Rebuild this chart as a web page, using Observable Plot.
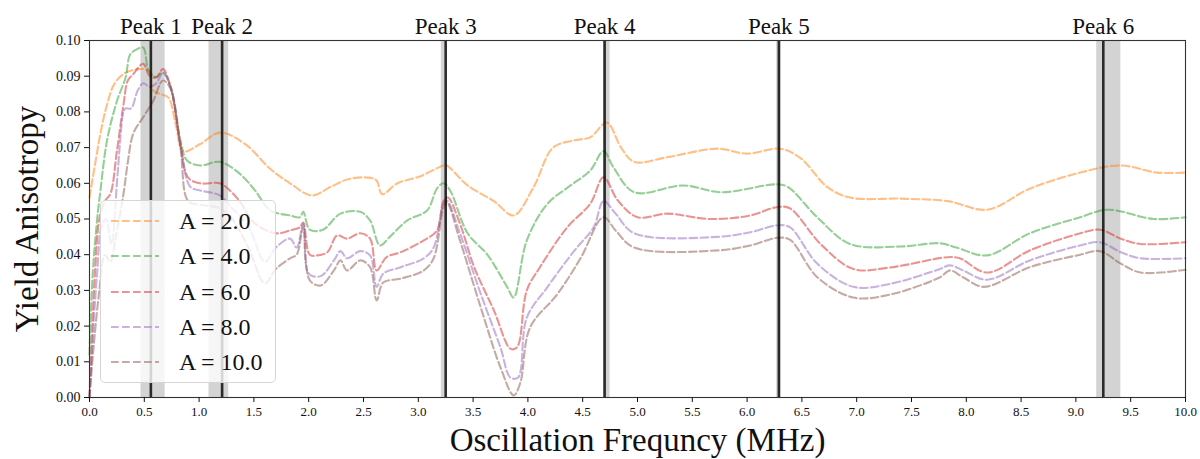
<!DOCTYPE html>
<html>
<head>
<meta charset="utf-8">
<script src="https://cdn.jsdelivr.net/npm/d3@7"></script>
<script src="https://cdn.jsdelivr.net/npm/@observablehq/plot@0.6"></script>
<style>
  html, body { margin: 0; padding: 0; background: #fff; }
  #wrap { position: relative; width: 1200px; height: 459px; font-family: "Liberation Serif", "DejaVu Serif", serif; }
  #legend { position: absolute; left: 100px; top: 200px; width: 176px; height: 183px; box-sizing: border-box;
            background: rgba(255,255,255,0.8); border: 1px solid #d6d6d6; border-radius: 5px; }
  .lrow { position: absolute; left: 0; height: 30px; width: 176px; }
  .lrow svg { position: absolute; left: 9px; top: 0; }
  .lrow span { position: absolute; left: 78px; top: 0; line-height: 30px; font-size: 24px; color: #111; white-space: nowrap; }
</style>
</head>
<body>
<div id="wrap"></div>
<script>
// ---- data ----
const seriesLabels = ["A = 2.0", "A = 4.0", "A = 6.0", "A = 8.0", "A = 10.0"];
const seriesColors = ["#ff7f0e", "#2ca02c", "#d62728", "#9467bd", "#8c564b"];

const freqA2 = [0, 0.06, 0.10, 0.16, 0.23, 0.33, 0.46, 0.54, 0.58, 0.65, 0.72, 0.79, 0.855, 1.01, 1.19, 1.42, 1.65, 1.83, 2.03, 2.2, 2.38, 2.61, 2.67, 2.81, 3.02, 3.23, 3.26, 3.45, 3.69, 3.87, 4.05, 4.23, 4.42, 4.57, 4.72, 4.85, 4.97, 5.27, 5.73, 6.0, 6.30, 6.49, 6.73, 6.94, 7.40, 7.83, 8.19, 8.58, 9.04, 9.41, 9.74, 10.0];
const yieldA2 = [0.056, 0.067, 0.074, 0.082, 0.088, 0.091, 0.092, 0.0915, 0.086, 0.085, 0.084, 0.076, 0.069, 0.071, 0.0742, 0.071, 0.064, 0.060, 0.0566, 0.059, 0.0613, 0.061, 0.057, 0.060, 0.062, 0.065, 0.065, 0.0594, 0.055, 0.051, 0.0588, 0.070, 0.072, 0.0729, 0.077, 0.070, 0.066, 0.0673, 0.0697, 0.0683, 0.0697, 0.067, 0.059, 0.056, 0.0557, 0.055, 0.0526, 0.0585, 0.063, 0.065, 0.063, 0.063];

const freqA4 = [0, 0.03, 0.07, 0.10, 0.16, 0.25, 0.33, 0.37, 0.43, 0.49, 0.54, 0.61, 0.67, 0.74, 0.83, 0.89, 1.01, 1.19, 1.37, 1.51, 1.65, 1.83, 1.92, 1.95, 2.01, 2.13, 2.29, 2.47, 2.56, 2.65, 2.74, 2.90, 3.08, 3.17, 3.23, 3.29, 3.45, 3.63, 3.81, 3.87, 3.99, 4.18, 4.39, 4.57, 4.69, 4.78, 4.97, 5.42, 5.76, 6.27, 6.37, 6.64, 6.94, 7.40, 7.76, 7.91, 8.19, 8.58, 9.04, 9.29, 9.71, 10.0];
const yieldA4 = [0.012, 0.035, 0.050, 0.058, 0.072, 0.083, 0.0897, 0.096, 0.0975, 0.098, 0.0916, 0.0897, 0.091, 0.087, 0.072, 0.0664, 0.065, 0.066, 0.0627, 0.058, 0.0524, 0.051, 0.0505, 0.052, 0.047, 0.047, 0.0515, 0.052, 0.0496, 0.0426, 0.045, 0.0496, 0.0524, 0.0585, 0.060, 0.058, 0.046, 0.040, 0.031, 0.028, 0.044, 0.0543, 0.0594, 0.0636, 0.069, 0.0645, 0.0575, 0.0594, 0.0575, 0.0597, 0.059, 0.0505, 0.043, 0.0423, 0.0432, 0.042, 0.0398, 0.046, 0.0505, 0.0526, 0.050, 0.0505];

const freqA6 = [0, 0.02, 0.05, 0.09, 0.14, 0.19, 0.25, 0.31, 0.35, 0.40, 0.49, 0.55, 0.61, 0.67, 0.74, 0.83, 0.90, 1.01, 1.19, 1.28, 1.37, 1.50, 1.70, 1.83, 1.92, 1.95, 2.01, 2.08, 2.17, 2.26, 2.35, 2.47, 2.56, 2.62, 2.71, 2.84, 3.05, 3.17, 3.23, 3.27, 3.38, 3.51, 3.69, 3.84, 3.90, 3.99, 4.11, 4.36, 4.57, 4.69, 4.82, 5.00, 5.27, 5.66, 6.03, 6.27, 6.39, 6.67, 6.97, 7.30, 7.83, 7.94, 8.19, 8.58, 9.04, 9.22, 9.41, 9.59, 10.0];
const yieldA6 = [0.0, 0.015, 0.035, 0.050, 0.055, 0.057, 0.069, 0.082, 0.0888, 0.0906, 0.0935, 0.090, 0.0897, 0.092, 0.087, 0.071, 0.0616, 0.060, 0.060, 0.058, 0.055, 0.049, 0.046, 0.0468, 0.0477, 0.049, 0.040, 0.0398, 0.0407, 0.0454, 0.0445, 0.046, 0.0445, 0.0356, 0.0393, 0.0407, 0.044, 0.0468, 0.055, 0.056, 0.0487, 0.0365, 0.0244, 0.0137, 0.014, 0.030, 0.0365, 0.0477, 0.0543, 0.0617, 0.0552, 0.0505, 0.0515, 0.050, 0.051, 0.0533, 0.053, 0.043, 0.036, 0.0364, 0.0393, 0.039, 0.035, 0.0412, 0.046, 0.047, 0.0445, 0.043, 0.0435];

const freqA8 = [0, 0.03, 0.07, 0.11, 0.15, 0.20, 0.25, 0.28, 0.31, 0.33, 0.38, 0.44, 0.49, 0.55, 0.61, 0.67, 0.74, 0.83, 0.92, 1.01, 1.19, 1.30, 1.45, 1.60, 1.70, 1.83, 1.89, 1.95, 2.00, 2.11, 2.23, 2.29, 2.35, 2.47, 2.56, 2.62, 2.68, 2.84, 3.05, 3.14, 3.23, 3.26, 3.38, 3.57, 3.75, 3.84, 3.91, 3.99, 4.18, 4.42, 4.60, 4.69, 4.80, 4.97, 5.73, 6.03, 6.27, 6.39, 6.64, 6.97, 7.30, 7.76, 7.85, 7.97, 8.19, 8.58, 9.04, 9.22, 9.41, 9.59, 10.0];
const yieldA8 = [0.0, 0.017, 0.035, 0.048, 0.050, 0.043, 0.060, 0.072, 0.080, 0.081, 0.081, 0.086, 0.088, 0.087, 0.088, 0.091, 0.087, 0.0705, 0.059, 0.058, 0.0566, 0.053, 0.048, 0.038, 0.042, 0.0445, 0.042, 0.0487, 0.0347, 0.034, 0.0384, 0.041, 0.039, 0.041, 0.0398, 0.031, 0.0347, 0.0365, 0.039, 0.042, 0.0543, 0.0552, 0.046, 0.029, 0.014, 0.0056, 0.0056, 0.0224, 0.031, 0.041, 0.0477, 0.055, 0.0515, 0.046, 0.045, 0.0463, 0.0482, 0.0477, 0.0375, 0.031, 0.0318, 0.036, 0.037, 0.0356, 0.033, 0.0384, 0.0426, 0.0435, 0.0407, 0.039, 0.039];

const freqA10 = [0, 0.04, 0.09, 0.14, 0.19, 0.24, 0.31, 0.35, 0.40, 0.49, 0.58, 0.67, 0.74, 0.83, 0.90, 1.01, 1.19, 1.30, 1.45, 1.60, 1.70, 1.83, 1.89, 1.95, 2.01, 2.11, 2.23, 2.29, 2.35, 2.47, 2.56, 2.62, 2.68, 2.84, 3.05, 3.14, 3.23, 3.26, 3.38, 3.57, 3.75, 3.87, 3.93, 4.02, 4.27, 4.48, 4.69, 4.80, 4.97, 5.73, 6.03, 6.27, 6.39, 6.64, 6.97, 7.30, 7.76, 7.85, 7.97, 8.16, 8.58, 9.04, 9.22, 9.41, 9.59, 10.0];
const yieldA10 = [0.0, 0.015, 0.030, 0.040, 0.038, 0.045, 0.057, 0.066, 0.074, 0.0785, 0.083, 0.0888, 0.0865, 0.070, 0.055, 0.054, 0.053, 0.050, 0.042, 0.032, 0.036, 0.039, 0.040, 0.0477, 0.0328, 0.0314, 0.0356, 0.0384, 0.0356, 0.0384, 0.0365, 0.0272, 0.0322, 0.0333, 0.0356, 0.039, 0.0533, 0.0547, 0.044, 0.0252, 0.0084, 0.0006, 0.004, 0.0196, 0.029, 0.039, 0.0505, 0.0468, 0.042, 0.0412, 0.0426, 0.0447, 0.0442, 0.0337, 0.028, 0.0288, 0.0337, 0.0356, 0.0337, 0.031, 0.0365, 0.040, 0.041, 0.0375, 0.035, 0.0358];

const peakLabels  = ["Peak 1", "Peak 2", "Peak 3", "Peak 4", "Peak 5", "Peak 6"];
const peakCenters = [0.56, 1.21, 3.25, 4.70, 6.29, 9.25];
const peakLow     = [0.47, 1.09, 3.21, 4.69, 6.27, 9.19];
const peakHigh    = [0.69, 1.27, 3.26, 4.75, 6.31, 9.41];

const xTicks = [0, 0.5, 1, 1.5, 2, 2.5, 3, 3.5, 4, 4.5, 5, 5.5, 6, 6.5, 7, 7.5, 8, 8.5, 9, 9.5, 10];
const yTicks = [0, 0.01, 0.02, 0.03, 0.04, 0.05, 0.06, 0.07, 0.08, 0.09, 0.10];
const xLabel = "Oscillation Frequncy (MHz)";
const yLabel = "Yield Anisotropy";

// ---- build ----
const freqs = [freqA2, freqA4, freqA6, freqA8, freqA10];
const yields = [yieldA2, yieldA4, yieldA6, yieldA8, yieldA10];
const rows = seriesLabels.flatMap((lab, k) => freqs[k].map((f, i) => ({f, v: yields[k][i], A: lab})));
const peaks = peakLabels.map((label, i) => ({label, c: peakCenters[i], lo: peakLow[i], hi: peakHigh[i]}));

const serif = "Liberation Serif, DejaVu Serif, serif";
const dash = "7.7,3.3";

const chart = Plot.plot({
  width: 1200,
  height: 459,
  marginTop: 40,
  marginBottom: 62,
  marginLeft: 89,
  marginRight: 15,
  style: {fontFamily: serif, color: "#111", background: "transparent"},
  x: {domain: [0, 10]},
  y: {domain: [0, 0.1]},
  color: {domain: seriesLabels, range: seriesColors},
  marks: [
    Plot.rect(peaks, {x1: "lo", x2: "hi", fill: "#c4c4c4", fillOpacity: 0.75}),
    Plot.line(rows, {x: "f", y: "v", z: "A", stroke: "A", strokeOpacity: 0.5, strokeWidth: 2.1,
                     strokeDasharray: dash, curve: "catmull-rom"}),
    Plot.ruleX(peaks, {x: "c", stroke: "#000", strokeOpacity: 0.8, strokeWidth: 2.6}),
    Plot.frame({stroke: "#333", strokeWidth: 1.1}),
    Plot.axisX({ticks: xTicks, tickFormat: d => d.toFixed(1), tickSize: 5, tickPadding: 4,
                label: null, fontSize: 13, fontFamily: serif}),
    Plot.axisY({ticks: yTicks, tickFormat: d => d.toFixed(2), tickSize: 5, tickPadding: 4,
                label: null, fontSize: 14, fontFamily: serif}),
    Plot.text(peaks, {x: "c", text: "label", frameAnchor: "top", dy: -7, lineAnchor: "bottom",
                      fontSize: 23, fontFamily: serif, fill: "#111"}),
    Plot.text([xLabel], {text: d => d, frameAnchor: "bottom", dy: 43, lineAnchor: "middle", textAnchor: "middle",
                         fontSize: 33, fontFamily: serif, fill: "#111"}),
    Plot.text([yLabel], {text: d => d, frameAnchor: "left", dx: -62, rotate: -90, lineAnchor: "middle", textAnchor: "middle",
                         fontSize: 33, fontFamily: serif, fill: "#111"})
  ]
});

const wrap = document.getElementById("wrap");
wrap.appendChild(chart);

// legend overlay
const legend = document.createElement("div");
legend.id = "legend";
seriesLabels.forEach((lab, i) => {
  const row = document.createElement("div");
  row.className = "lrow";
  row.style.top = (5 + i * 35.3) + "px";
  row.innerHTML = `<svg width="50" height="30"><line x1="1" x2="49" y1="15" y2="15" stroke="${seriesColors[i]}" stroke-opacity="0.5" stroke-width="2.1" stroke-dasharray="${dash}"/></svg><span>${lab}</span>`;
  legend.appendChild(row);
});
wrap.appendChild(legend);
</script>
</body>
</html>
